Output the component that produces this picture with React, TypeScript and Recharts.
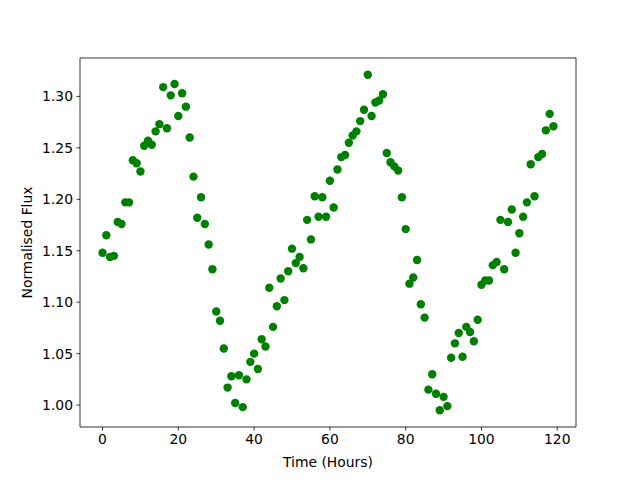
import React from 'react';
import { ScatterChart, Scatter, XAxis, YAxis, ReferenceArea } from 'recharts';

const hours: number[] = Array.from({ length: 120 }, (_, i) => i);
const flux: number[] = [
  1.148, 1.165, 1.144, 1.145, 1.178, 1.176, 1.197, 1.197, 1.238, 1.235,
  1.227, 1.252, 1.257, 1.253, 1.266, 1.273, 1.309, 1.269, 1.301, 1.312,
  1.281, 1.303, 1.290, 1.260, 1.222, 1.182, 1.202, 1.176, 1.156, 1.132,
  1.091, 1.082, 1.055, 1.017, 1.028, 1.002, 1.029, 0.998, 1.025, 1.042,
  1.050, 1.035, 1.064, 1.057, 1.114, 1.076, 1.096, 1.123, 1.102, 1.130,
  1.152, 1.138, 1.144, 1.133, 1.180, 1.161, 1.203, 1.183, 1.202, 1.183,
  1.218, 1.192, 1.229, 1.241, 1.243, 1.255, 1.262, 1.266, 1.276, 1.287,
  1.321, 1.281, 1.294, 1.296, 1.302, 1.245, 1.236, 1.232, 1.228, 1.202,
  1.171, 1.118, 1.124, 1.141, 1.098, 1.085, 1.015, 1.030, 1.011, 0.995,
  1.008, 0.999, 1.046, 1.060, 1.070, 1.047, 1.076, 1.071, 1.062, 1.083,
  1.117, 1.121, 1.121, 1.136, 1.139, 1.180, 1.132, 1.178, 1.190, 1.148,
  1.167, 1.183, 1.197, 1.234, 1.203, 1.241, 1.244, 1.267, 1.283, 1.271,
];
const xTicks: number[] = [0, 20, 40, 60, 80, 100, 120];
const yTicks: number[] = [1.0, 1.05, 1.1, 1.15, 1.2, 1.25, 1.3];

const data = hours.map((h, i) => ({ h, f: flux[i] }));

const X_DOMAIN: [number, number] = [-5.95, 124.95];
const Y_DOMAIN: [number, number] = [0.9787, 1.3373];

const FONT = 'DejaVu Sans';
const tickStyle = { fontFamily: FONT, fontSize: 13.9, fill: '#000' };

const Dot = (props: any) => (
  <circle cx={props.cx} cy={props.cy} r={4.2} fill="#008000" />
);

export default function App() {
  return (
    <div style={{ position: 'absolute', left: 0, top: 0, width: 640, height: 480, background: '#fff' }}>
      <ScatterChart width={640} height={480} margin={{ top: 58, right: 64, bottom: 0, left: 0 }}>
        <XAxis
          type="number"
          dataKey="h"
          domain={X_DOMAIN}
          ticks={xTicks}
          allowDataOverflow
          height={53}
          tickSize={3.5}
          tickMargin={3.5}
          tick={tickStyle}
          axisLine={false}
          tickLine={{ stroke: '#000', strokeWidth: 0.8 }}
          label={{
            content: (p: any) => {
              const vb = p.viewBox;
              return (
                <text x={vb.x + vb.width / 2} y={467} textAnchor="middle" fontFamily={FONT} fontSize={13.9} fill="#000">
                  Time (Hours)
                </text>
              );
            },
          }}
        />
        <YAxis
          type="number"
          dataKey="f"
          domain={Y_DOMAIN}
          ticks={yTicks}
          allowDataOverflow
          width={80}
          tickSize={3.5}
          tickMargin={3.5}
          tick={tickStyle}
          tickFormatter={(v: number) => v.toFixed(2)}
          axisLine={false}
          tickLine={{ stroke: '#000', strokeWidth: 0.8 }}
          label={{
            content: (p: any) => {
              const vb = p.viewBox;
              const cy = vb.y + vb.height / 2;
              return (
                <text x={27} y={cy} transform={`rotate(-90, 27, ${cy})`} textAnchor="middle" dominantBaseline="central" fontFamily={FONT} fontSize={13.9} fill="#000">
                  Normalised Flux
                </text>
              );
            },
          }}
        />
        <Scatter data={data} shape={Dot} isAnimationActive={false} />
        <ReferenceArea
          x1={X_DOMAIN[0]}
          x2={X_DOMAIN[1]}
          y1={Y_DOMAIN[0]}
          y2={Y_DOMAIN[1]}
          fill="none"
          fillOpacity={0}
          stroke="#000"
          strokeWidth={0.8}
          ifOverflow="visible"
        />
      </ScatterChart>
    </div>
  );
}
